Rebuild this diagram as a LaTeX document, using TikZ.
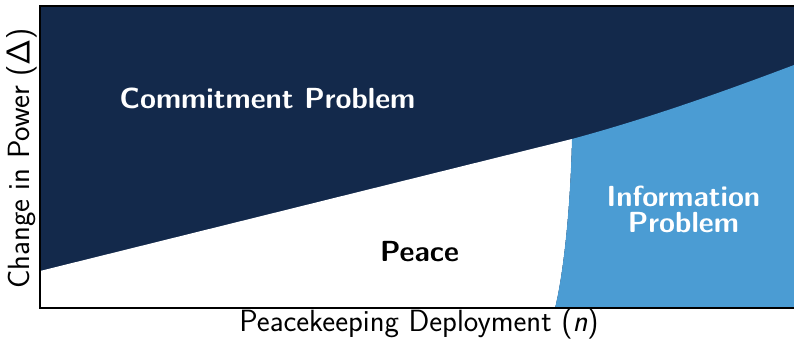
\documentclass[tikz,border=0pt]{standalone}
\definecolor{uncnavy}{HTML}{13294B}
\definecolor{uncblue}{HTML}{4B9CD3}
\tikzset{
  region label/.style={inner sep=0pt, font=\fontsize{21.8}{19.5}\selectfont\sffamily\bfseries},
  axis label/.style={inner sep=0pt, font=\fontsize{23}{27}\selectfont\sffamily},
  axis line/.style={draw=black, line width=1.5pt}
}
\begin{document}
\begin{tikzpicture}[x=0.75pt,y=-0.75pt]
\useasboundingbox (0,0) rectangle (794,341);
\coordinate (tl) at (40,6);
\coordinate (tr) at (794,6);
\coordinate (bl) at (40,308);
\coordinate (br) at (794,308);
\coordinate (cl) at (40,271);
\coordinate (k) at (572,139);
\coordinate (cr) at (794,65);
\coordinate (ib) at (555,308);
\fill[uncnavy] (tl) rectangle (br);
\fill[white] (cl) -- (k) .. controls (570,220) and (562,280) .. (ib) -- (bl) -- cycle;
\fill[uncblue] (k) .. controls (646,119) and (720,93) .. (cr) -- (br) -- (ib) .. controls (562,280) and (570,220) .. (k) -- cycle;
\draw[axis line] (tr) -- (tl) -- (bl) -- (br);
\node[region label, text=white, anchor=base] (commit) at (267.5,109) {Commitment Problem};
\node[region label, text=white, align=center, anchor=base] (info) at (683.5,233) {Information\\Problem};
\node[region label, text=black, anchor=base] (peace) at (419.5,262) {Peace};
\node[axis label, anchor=base] (xl) at (419,331.5) {Peacekeeping Deployment (\textit{n})};
\node[axis label, rotate=90, anchor=base] (yl) at (29.5,158.5) {Change in Power ($\mathsf{\Delta}$)};
\end{tikzpicture}
\end{document}
